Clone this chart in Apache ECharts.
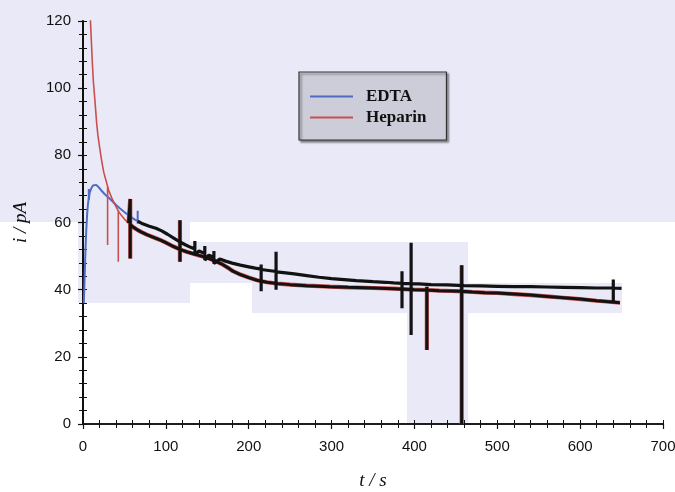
<!DOCTYPE html>
<html>
<head>
<meta charset="utf-8">
<script src="https://cdn.jsdelivr.net/npm/echarts@6/dist/echarts.min.js"></script>
<style>
  html, body { margin: 0; padding: 0; background: #ffffff; }
  #chart { width: 675px; height: 492px; }
</style>
</head>
<body>
<div id="chart"></div>
<script>
// Current traces [t (s), i (pA)]; repeated t values are the sharp transients.
const edtaRise = [
  [1, 36], [2, 44], [3, 52], [4, 58], [5, 62.5], [6, 65.5], [7, 67.5], [7, 70], [7, 66.7],
  [8, 68.8], [10, 70.2], [12, 71], [14, 71.3], [16, 71.2], [18, 70.8], [20, 70.2],
  [23, 69.3], [26, 68.5], [30, 67.6], [33, 66.9], [36, 66.2], [40, 65.2], [44, 64.3],
  [48, 63.5], [52, 62.7], [56, 62], [60, 61.3], [63, 60.8], [66, 60.4], [66, 63.5],
  [66, 59.6], [66, 60.4]
];
const edtaTail = [
  [66, 60.4], [72, 59.6], [80, 58.9], [88, 58.3], [95, 57.5], [102, 56.5], [110, 55.3],
  [117, 54.2], [124, 53.3], [130, 52.6], [135, 52.1], [135, 54.5], [135, 50.5], [140, 51.5],
  [147, 50.8], [147, 53], [147, 48.8], [152, 50.3], [158, 49.6], [158, 51.5], [158, 47.8],
  [165, 49.1], [172, 48.5], [180, 47.9], [190, 47.3], [200, 46.8], [208, 46.4], [215, 46.1],
  [215, 47.5], [215, 39.5], [215, 46], [224, 45.7], [233, 45.4], [233, 51.3], [233, 40],
  [233, 45.3], [242, 45.1], [255, 44.7], [270, 44.2], [285, 43.7], [300, 43.3], [315, 43],
  [330, 42.7], [350, 42.4], [365, 42.2], [375, 42], [385, 41.9], [385, 45.5], [385, 34.5],
  [385, 41.9], [391, 41.8], [396, 41.8], [396, 54], [396, 26.5], [396, 41.8], [405, 41.7],
  [420, 41.5], [440, 41.4], [460, 41.2], [480, 41.1], [500, 41], [520, 40.9], [540, 40.9],
  [560, 40.8], [580, 40.7], [600, 40.6], [620, 40.5], [640, 40.5], [640, 43], [640, 36.5],
  [640, 40.5], [650, 40.4]
];
const heparinDecay = [
  [5, 140], [7, 129], [9, 120], [11, 109], [12.5, 102], [14.5, 96], [16.5, 89.5], [18, 86],
  [19.7, 83], [22.4, 78.6], [25, 75], [28, 72.3], [29.7, 70.8], [29.7, 53.3], [29.7, 70.8],
  [31, 69.6], [34.5, 67.4], [38, 65.6], [42.6, 63.4], [42.6, 48.3], [42.6, 63.4], [46, 62.2],
  [50.7, 60.8], [55, 59.8]
];
const heparinTail = [
  [55, 59.8], [57, 59.4], [57, 67], [57, 49.3], [57, 59.4], [60, 58.7], [65, 57.9], [70, 57.2],
  [77, 56.4], [85, 55.6], [93, 54.8], [100, 54], [108, 53], [117, 52], [117, 60.7], [117, 48.3],
  [117, 52], [125, 51.3], [133, 50.7], [140, 50.2], [147, 49.7], [153, 49.2], [160, 48.5],
  [167, 47.7], [175, 46.5], [181, 45.5], [190, 44.5], [200, 43.6], [210, 42.8], [222, 42.2],
  [235, 41.8], [250, 41.5], [270, 41.2], [298, 40.9], [320, 40.7], [350, 40.5], [375, 40.3],
  [400, 40], [415, 39.9], [415, 40.9], [415, 22], [415, 39.9], [430, 39.7], [445, 39.6],
  [457, 39.5], [457, 47.3], [457, 0], [457, 39.5], [470, 39.3], [485, 39.1], [500, 39],
  [520, 38.7], [540, 38.4], [560, 38], [580, 37.6], [600, 37.2], [620, 36.7], [635, 36.4],
  [648, 36.1]
];
const seriesNames = ['EDTA', 'Heparin'];

// Scale settings
const tRange = [0, 700];
const iRange = [0, 120];

const EDTA_BLUE = '#4f6cc4';
const HEPARIN_RED = '#c9504c';
const TRACE_BLACK = '#121212';
const AXIS_COLOR = '#111111';
const TINT = '#e9e9f7';

// Tinted paper panels behind the plot
const tintPanels = [
  [0, 0, 675, 222],
  [78, 222, 112, 81],
  [190, 242, 62, 41],
  [252, 242, 216, 71],
  [407, 313, 61, 111],
  [468, 283, 154, 30]
];

const labelFont = { fontFamily: 'Liberation Sans, Arial, sans-serif', fontSize: 15, color: AXIS_COLOR };
const titleFont = { fontFamily: 'Liberation Serif, Times New Roman, serif', fontStyle: 'italic', fontSize: 19, color: AXIS_COLOR };

function tickAxis(extra) {
  return Object.assign({
    type: 'value',
    splitLine: { show: false },
    axisLabel: { show: false },
    axisLine: { show: false, lineStyle: { color: AXIS_COLOR, width: 1.5 } },
    axisTick: { show: true, inside: true, length: 4, lineStyle: { color: AXIS_COLOR, width: 1 } }
  }, extra);
}

const chart = echarts.init(document.getElementById('chart'), null, { renderer: 'canvas' });

chart.setOption({
  animation: false,
  backgroundColor: '#ffffff',
  graphic: tintPanels.map(p => ({
    type: 'rect', z: -10, silent: true,
    shape: { x: p[0], y: p[1], width: p[2], height: p[3] },
    style: { fill: TINT }
  })),
  grid: { left: 83, right: 12, top: 21, bottom: 68, containLabel: false, outerBoundsMode: 'none' },
  legend: {
    orient: 'vertical',
    left: 299,
    top: 72,
    padding: [16, 20, 14, 11],
    itemGap: 4,
    itemWidth: 43,
    itemHeight: 2,
    icon: 'rect',
    backgroundColor: '#cdcdd9',
    borderColor: '#333333',
    borderWidth: 1.2,
    shadowColor: 'rgba(0,0,0,0.45)',
    shadowOffsetX: 2,
    shadowOffsetY: 2,
    shadowBlur: 2,
    selectedMode: false,
    textStyle: {
      fontFamily: 'Liberation Serif, Times New Roman, serif',
      fontWeight: 'bold',
      fontSize: 17,
      color: '#111111',
      padding: [0, 0, 0, 8]
    },
    data: [
      { name: seriesNames[0], itemStyle: { color: EDTA_BLUE } },
      { name: seriesNames[1], itemStyle: { color: HEPARIN_RED } }
    ]
  },
  xAxis: [
    {
      type: 'value', min: tRange[0], max: tRange[1], interval: 100, position: 'bottom',
      name: 't / s', nameLocation: 'middle', nameGap: 47, nameTextStyle: titleFont,
      splitLine: { show: false },
      axisLine: { show: true, lineStyle: { color: AXIS_COLOR, width: 1.5 } },
      axisTick: { show: true, inside: false, length: 5, lineStyle: { color: AXIS_COLOR, width: 1.2 } },
      axisLabel: Object.assign({ margin: 15 }, labelFont)
    },
    tickAxis({ min: tRange[0], max: tRange[1], interval: 20, position: 'bottom' }),
    tickAxis({ min: tRange[0], max: tRange[1], interval: 20, position: 'top',
      axisLine: { show: true, lineStyle: { color: AXIS_COLOR, width: 1.5 } } })
  ],
  yAxis: [
    {
      type: 'value', min: iRange[0], max: iRange[1], interval: 20, position: 'left',
      name: 'i / pA', nameLocation: 'middle', nameGap: 53, nameRotate: 90, nameTextStyle: titleFont,
      splitLine: { show: false },
      axisLine: { show: true, lineStyle: { color: AXIS_COLOR, width: 2 } },
      axisTick: { show: true, inside: false, length: 5, lineStyle: { color: AXIS_COLOR, width: 1.2 } },
      axisLabel: Object.assign({ margin: 12 }, labelFont)
    },
    tickAxis({ min: iRange[0], max: iRange[1], interval: 4, position: 'left' }),
    tickAxis({ min: iRange[0], max: iRange[1], interval: 4, position: 'right',
      axisLine: { show: true, lineStyle: { color: AXIS_COLOR, width: 1.5 } } })
  ],
  series: [
    {
      name: seriesNames[0], type: 'line', data: edtaRise, showSymbol: false, symbol: 'none',
      color: EDTA_BLUE, lineStyle: { color: EDTA_BLUE, width: 2 }, z: 3
    },
    {
      name: seriesNames[1], type: 'line', data: heparinDecay, showSymbol: false, symbol: 'none',
      color: HEPARIN_RED, lineStyle: { color: HEPARIN_RED, width: 1.6 }, z: 4
    },
    {
      name: seriesNames[1], type: 'line', data: heparinTail, showSymbol: false, symbol: 'none',
      color: HEPARIN_RED, lineStyle: { color: HEPARIN_RED, width: 4.2 }, z: 2
    },
    {
      name: seriesNames[1], type: 'line', data: heparinTail, showSymbol: false, symbol: 'none',
      color: TRACE_BLACK, lineStyle: { color: TRACE_BLACK, width: 3 }, z: 5
    },
    {
      name: seriesNames[0], type: 'line', data: edtaTail, showSymbol: false, symbol: 'none',
      color: TRACE_BLACK, lineStyle: { color: TRACE_BLACK, width: 3.2 }, z: 5
    }
  ]
});
</script>
</body>
</html>
